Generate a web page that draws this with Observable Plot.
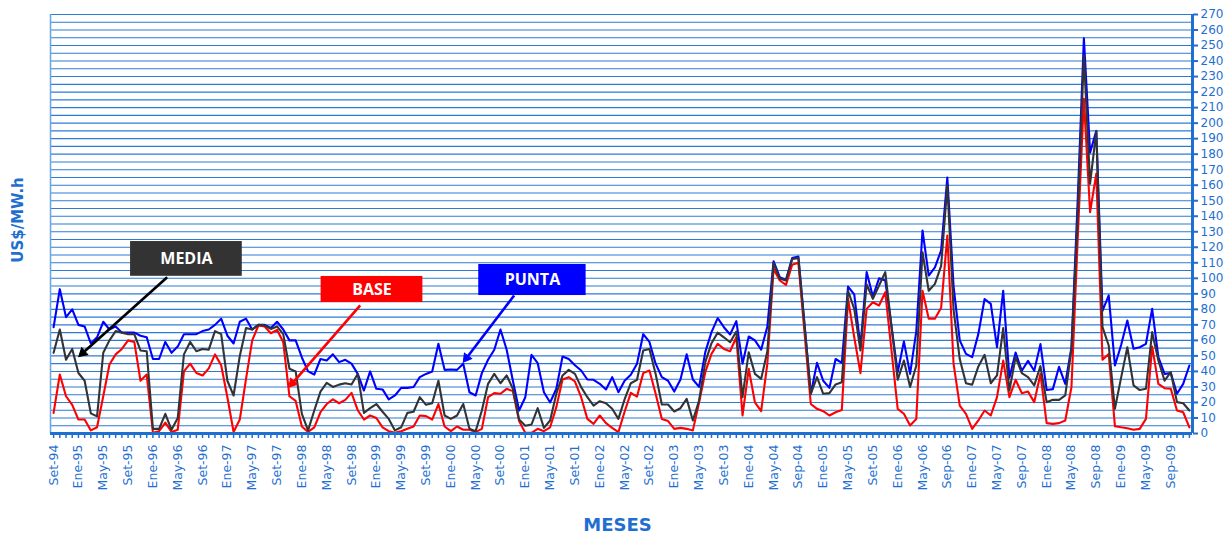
<!DOCTYPE html>
<html><head><meta charset="utf-8">
<script src="https://cdn.jsdelivr.net/npm/d3@7"></script>
<script src="https://cdn.jsdelivr.net/npm/@observablehq/plot@0.6"></script>
<style>
body{margin:0;background:#fff;}
#chart svg{display:block;}
</style></head><body><div id="chart"></div>
<script>
// Tick labels every 4 months starting Set-94 (index 0)
const tickLabels = ["Set-94","Ene-95","May-95","Set-95","Ene-96","May-96","Set-96","Ene-97","May-97","Set-97","Ene-98","May-98","Set-98","Ene-99","May-99","Set-99","Ene-00","May-00","Set-00","Ene-01","May-01","Set-01","Ene-02","May-02","Set-02","Ene-03","May-03","Set-03","Ene-04","May-04","Sep-04","Ene-05","May-05","Set-05","Ene-06","May-06","Sep-06","Ene-07","May-07","Sep-07","Ene-08","May-08","Sep-08","Ene-09","May-09","Sep-09"];
const yTicks = [0,10,20,30,40,50,60,70,80,90,100,110,120,130,140,150,160,170,180,190,200,210,220,230,240,250,260,270];

const punta = [68.5,93,75,80,70,69,58,62,72,67,
69,65,65,65,63,62,48,48,59,52,
56,64,64,64,66,67,70,74,63,58,
72,74,67,70,70,68,72,67,60,60,
49,40,38,48,47,51,46,47.5,45,38.4,
27.7,40,28.8,28.4,22,24.5,29.4,29.4,30,36.3,
38.4,40,57.8,41,41.2,41,45,26.6,24.5,38.9,
47.5,54,67,54,34,14.8,23.4,50.7,45.3,26.6,
20,28.8,49.6,48,44,40.6,34.8,34.6,32,28.4,
36.3,26.6,34,37.8,45,64,59,45,36.3,34,
27,34.8,51,34.8,30,52.4,65.3,74.3,68.5,63.8,
72.4,45,62.5,60,54,69,111,100.7,99,113,
114,70,25.6,45.5,34,29.4,48,45.5,94.7,89.6,
56,104,88.3,100,98.6,69,39.5,59.3,38.4,66,
130.8,101.8,107,118,165,95,60,51.3,49.2,64.2,
86.7,83.5,55.6,92,36,52.2,40.4,46.8,40.4,57.6,
28,28.6,43,32,55.6,150,254.7,181,195,79,
89,43.8,57,72.8,54.6,55.6,57.8,80.3,49.2,38.4,
38.9,25.6,32,43.8];

const media = [52,67,47.5,54.5,39,34,13,11,52,60,
66,65,64,64,53.5,53,3,3,12.7,2.4,
10,51,59,53,54.5,54,66,64,34,24.5,
50,68,67,70,69.6,67.4,69,64,41.7,40,
12.7,2,14.8,27,32.6,30,31.5,32.4,31.6,38.4,
13.3,16.3,19,14,9.4,2,4,13.3,14,23.4,
18.5,19.5,34,11.6,9.4,11.6,19,3,1.5,14.8,
32,38.4,32.4,37.4,28.8,9,5,5.8,16.3,3.6,
8.4,25.6,37.4,41,38.4,29.9,23.4,18,20.8,19.5,
16,9.4,22,32.4,34.6,53.5,54.5,38.4,18.7,18.7,
14.2,16.3,22.3,8.4,21.3,46,58.2,65,62,58.8,
65.7,23.4,52.4,38.4,35.2,53,109.8,99.7,98.6,112.5,
113,69,25.6,36.3,25.6,26,31.6,33,92,80.3,
53.5,96,86.8,95.4,104,69,34.6,47,30,43.8,
116.8,92,96.4,108,160,80,48,32.4,31.4,43.2,
50.7,32.4,37.4,67.9,27.7,49.2,38.9,36.3,31,43.4,
20.2,21.7,21.7,24.5,54.6,140,243.6,161,194.8,68.5,
56.7,15.9,36,55.6,31,28,28.8,65.3,47,34,
39.5,20.2,19.5,14.8];

const base = [13.3,38,24,18.5,9,9,2,4,24,44.5,
51,54.5,60,59,34,38,0.5,1.5,7,1,
2.4,40,45,39,37.4,42,51,44,23.4,1,
9,35,60,69.6,69,64.6,66.8,58.8,24,21,
4.5,1,4,13.7,19,22,19.5,21.7,26.2,15,
9,11.6,10,4,1.5,0.4,1.5,3,4.5,11.6,
11.2,9,19,4.5,1.5,4.5,2.4,2.4,0.9,3,
23.4,26,25.6,28.8,27.3,8,0.4,0.4,3,1.5,
4,17,34.8,36.3,33.5,23.4,9.4,6.2,11.6,6.7,
3.6,0.9,14,26.2,23.8,38.9,40.6,25.6,9.4,8,
3,3.6,3,2,20,39.5,51.3,57.8,54.5,53,
62,11.6,41.7,20,14.4,45,106,98.6,95.8,108.7,
110,64.5,19,15.9,14.4,11.6,13.7,15.2,86.8,62,
38.9,80.3,84.6,82.5,91,53.5,15.9,12.7,5.2,9.4,
92,74,74,81,127.6,45,18,12.7,3,8.4,
14.8,11.6,23.4,47,23.4,34.6,26,27,20.2,38.4,
6.7,6.2,6.7,8.4,30,125,215.6,142.6,167.5,47.5,
51.3,4.7,4,3.4,2.4,3,9.4,56,32,29.2,
28.8,14.8,13.7,4];

// Callout boxes (in data coordinates: month index / US$/MW.h)
const callouts = [
  {label: "MEDIA", x1: 12.4, x2: 30.4, y1: 101.3, y2: 123.7, ax1: 18.3, ay1: 100.7, ax2: 4.06, ay2: 49.6},
  {label: "BASE", x1: 43.1, x2: 59.5, y1: 84.4, y2: 101.2, ax1: 49.4, ay1: 82.6, ax2: 37.9, ay2: 29.8},
  {label: "PUNTA", x1: 68.5, x2: 85.8, y1: 88.9, y2: 108.9, ax1: 74.2, ay1: 88.9, ax2: 66.0, ay2: 45.9}
];
const calloutFill = {MEDIA: "#333333", BASE: "#ff0000", PUNTA: "#0000ff"};
const arrowColor = {MEDIA: "#000000", BASE: "#ff0000", PUNTA: "#0000ff"};

const n = punta.length;
const idx = d3.range(n);
const rows = (arr, s) => arr.map((v, i) => ({i, v, s}));
const blueTxt = "#1f6fd1";
const tickAt = new Map(tickLabels.map((t, k) => [k * 4, t]));

const frame = {
  width: 1231, height: 543,
  marginLeft: 50, marginRight: 39, marginTop: 14, marginBottom: 110,
  x: {domain: [-0.5, n - 0.5], axis: null},
  y: {domain: [0, 270], axis: null}
};

// first pass: get the scales, to orient the arrow heads in screen space
const probe = Plot.plot({...frame, marks: [Plot.ruleY([0])]});
const sx = probe.scale("x"), sy = probe.scale("y");
const R = 3.4;                                   // triangle symbol radius
const half = Math.sqrt((R * R * Math.PI) / (Math.sqrt(3) * 3)); // d3 triangle |y|
const heads = callouts.map(c => {
  const px1 = sx.apply(c.ax1), py1 = sy.apply(c.ay1);
  const px2 = sx.apply(c.ax2), py2 = sy.apply(c.ay2);
  const L = Math.hypot(px2 - px1, py2 - py1);
  const ux = (px2 - px1) / L, uy = (py2 - py1) / L;
  const cx = px2 - ux * 2 * half, cy = py2 - uy * 2 * half;
  const lx = px2 - ux * 3 * half, ly = py2 - uy * 3 * half;
  return {
    label: c.label,
    x1: c.ax1, y1: c.ay1,
    x2: sx.invert(lx), y2: sy.invert(ly),
    hx: sx.invert(cx), hy: sy.invert(cy),
    rot: Math.atan2(ux, -uy) * 180 / Math.PI
  };
});

const calloutMarks = [];
callouts.forEach((c, k) => {
  const h = heads[k];
  calloutMarks.push(Plot.rect([c], {x1: "x1", x2: "x2", y1: "y1", y2: "y2", fill: calloutFill[c.label]}));
  calloutMarks.push(Plot.text([c], {x: d => (d.x1 + d.x2) / 2, y: d => (d.y1 + d.y2) / 2, text: "label", fill: "white", fontSize: 16, fontWeight: "bold", fontFamily: "Open Sans"}));
  calloutMarks.push(Plot.link([h], {x1: "x1", y1: "y1", x2: "x2", y2: "y2", stroke: arrowColor[c.label], strokeWidth: 2.6}));
  calloutMarks.push(Plot.dot([h], {x: "hx", y: "hy", symbol: "triangle", r: R, rotate: "rot", fill: arrowColor[c.label], stroke: arrowColor[c.label], strokeWidth: 1}));
});

const chart = Plot.plot({
  ...frame,
  style: {fontFamily: "DejaVu Sans", fontSize: "12px", background: "white", overflow: "visible"},
  marks: [
    Plot.ruleY(d3.range(5, 271, 5), {stroke: "#2e7bd6", strokeWidth: 1.1}),
    Plot.ruleX([-0.5], {stroke: "#6aa5e6", strokeWidth: 1.5}),
    Plot.line(rows(punta, "PUNTA"), {x: "i", y: "v", stroke: "#0000ff", strokeWidth: 2.1}),
    Plot.line(rows(base, "BASE"), {x: "i", y: "v", stroke: "#ff0000", strokeWidth: 2.1}),
    Plot.line(rows(media, "MEDIA"), {x: "i", y: "v", stroke: "#333333", strokeWidth: 2.1}),
    Plot.ruleY([0], {stroke: blueTxt, strokeWidth: 3}),
    Plot.ruleX([n - 0.5], {stroke: blueTxt, strokeWidth: 3}),
    Plot.axisX(idx, {tickSize: 5, tickPadding: 6, stroke: blueTxt, strokeWidth: 1.5, fill: blueTxt, tickRotate: -90, fontSize: 12.5, tickFormat: i => tickAt.get(i) ?? "", label: null}),
    Plot.axisY(yTicks, {anchor: "right", tickSize: 5, tickPadding: 3, stroke: blueTxt, strokeWidth: 2, fill: blueTxt, fontSize: 12, label: null}),
    ...calloutMarks,
    Plot.text(["US$/MW.h"], {frameAnchor: "left", dx: -32, dy: -4, rotate: -90, textAnchor: "middle", fill: blueTxt, fontWeight: "bold", fontSize: 15}),
    Plot.text(["MESES"], {frameAnchor: "bottom", dx: -4, dy: 97, textAnchor: "middle", fill: blueTxt, fontWeight: "bold", fontSize: 18})
  ]
});
document.getElementById("chart").appendChild(chart);
</script>
</body></html>
